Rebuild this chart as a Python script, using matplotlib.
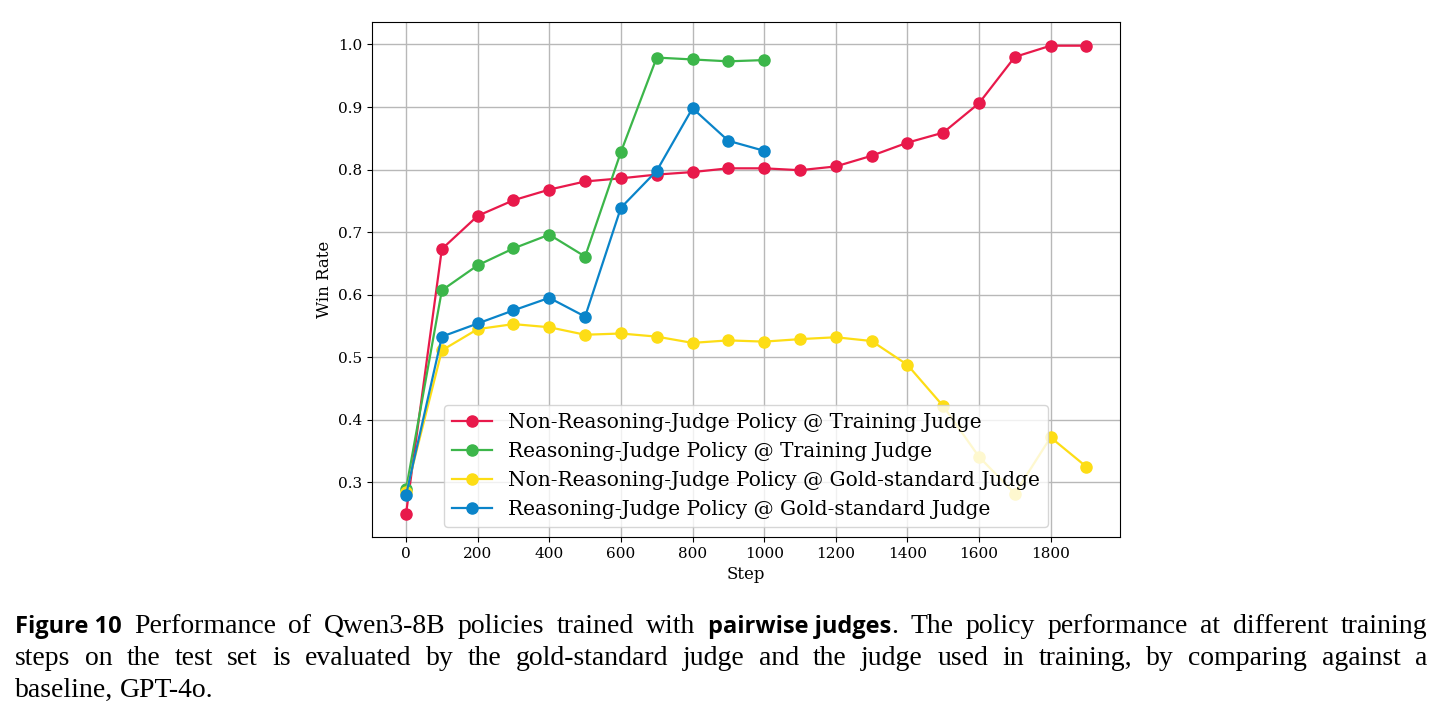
import matplotlib
matplotlib.use('Agg')
from matplotlib import pyplot as plt
from matplotlib.font_manager import FontProperties

steps_long = [0, 100, 200, 300, 400, 500, 600, 700, 800, 900, 1000,
              1100, 1200, 1300, 1400, 1500, 1600, 1700, 1800, 1900]
steps_short = [0, 100, 200, 300, 400, 500, 600, 700, 800, 900, 1000]

nonreason_train = [0.250, 0.673, 0.726, 0.751, 0.768, 0.781, 0.786, 0.792, 0.796, 0.802, 0.802,
                   0.799, 0.805, 0.822, 0.843, 0.859, 0.906, 0.980, 0.998, 0.998]
reason_train = [0.289, 0.607, 0.647, 0.674, 0.696, 0.661, 0.828, 0.979, 0.976, 0.973, 0.975]
nonreason_gold = [0.284, 0.511, 0.545, 0.553, 0.548, 0.536, 0.538, 0.533, 0.523, 0.527, 0.525,
                  0.529, 0.532, 0.526, 0.488, 0.422, 0.341, 0.282, 0.372, 0.325]
reason_gold = [0.280, 0.533, 0.554, 0.575, 0.595, 0.565, 0.739, 0.798, 0.898, 0.846, 0.830]

labels = ['Non-Reasoning-Judge Policy @ Training Judge',
          'Reasoning-Judge Policy @ Training Judge',
          'Non-Reasoning-Judge Policy @ Gold-standard Judge',
          'Reasoning-Judge Policy @ Gold-standard Judge']
colors = ['#e8194b', '#3cb64a', '#fddd15', '#0a84c9']

plt.rcParams['font.family'] = 'DejaVu Serif'

fig = plt.figure(figsize=(14.42, 7.19), dpi=100)
ax = fig.add_axes([0.258, 0.253, 0.519, 0.716])

series = [(steps_long, nonreason_train), (steps_short, reason_train),
          (steps_long, nonreason_gold), (steps_short, reason_gold)]
for (xs, ys), lab, c in zip(series, labels, colors):
    ax.plot(xs, ys, '-o', color=c, label=lab, linewidth=1.6, markersize=8)

ax.set_xticks(range(0, 1801, 200))
ax.set_yticks([0.3, 0.4, 0.5, 0.6, 0.7, 0.8, 0.9, 1.0])
ax.tick_params(labelsize=11)
ax.grid(True, color='#b8b8b8', linewidth=1)
ax.set_xlabel('Step', fontsize=12)
ax.set_ylabel('Win Rate', fontsize=12)
ax.legend(loc='lower center', fontsize=14.5, framealpha=0.8,
          borderpad=0.4, labelspacing=0.5, handletextpad=0.8)

# caption with justified lines
reg = FontProperties(family='Liberation Serif', size=20)
bold = FontProperties(family='Open Sans', weight='bold', size=17)
lines = [
    [('Figure 10', bold), ('Performance of Qwen3-8B policies trained with', reg),
     ('pairwise judges', bold), ('. The policy performance at different training', reg)],
    [('steps on the test set is evaluated by the gold-standard judge and the judge used in training, by comparing against a', reg)],
    [('baseline, GPT-4o.', reg)],
]
fig.canvas.draw()
renderer = fig.canvas.get_renderer()
x0, x1 = 15, 1427
baselines = [633, 665, 697]
H = fig.bbox.height
W = fig.bbox.width


def width_of(txt, fp):
    t = fig.text(0, 0, txt, fontproperties=fp)
    w = t.get_window_extent(renderer).width
    t.remove()
    return w


for li, (segs, yb) in enumerate(zip(lines, baselines)):
    words = []
    for txt, fp in segs:
        if fp is bold:
            # keep bold phrases as one unit
            words.append([txt, fp, False])
            continue
        parts = txt.split(' ')
        for k, p in enumerate(parts):
            if p == '':
                continue
            attach = (k == 0 and p.startswith('.') and len(words) > 0)
            words.append([p, fp, attach])
    widths = [width_of(w[0], w[1]) for w in words]
    ngaps = sum(1 for w in words[1:] if not w[2])
    total = sum(widths)
    if li < len(lines) - 1:
        gap = (x1 - x0 - total) / ngaps
    else:
        gap = width_of('a b', reg) - width_of('ab', reg)
    x = x0
    for (txt, fp, attach), w in zip(words, widths):
        if attach:
            x -= gap
        fig.text(x / W, 1 - yb / H, txt, fontproperties=fp, va='baseline', ha='left')
        x += w + gap

fig.savefig('out.png', dpi=100)
